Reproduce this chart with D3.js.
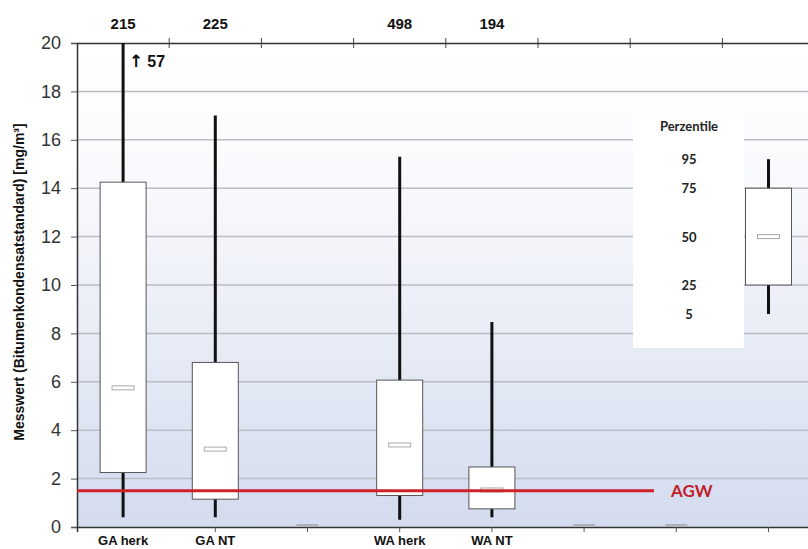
<!DOCTYPE html>
<html><head><meta charset="utf-8">
<script src="https://cdnjs.cloudflare.com/ajax/libs/d3/7.8.5/d3.min.js"></script>
<style>body{margin:0;background:#fff}svg{display:block}</style>
</head><body>
<svg id="c" width="808" height="549"></svg>
<script>
// ---- data ----
const slots = ["GA herk","GA NT","","WA herk","WA NT","","","Legende",""];
const categories = ["GA herk","GA NT","WA herk","WA NT"];
const catSlot = [0,1,3,4];
const counts = ["215","225","498","194"];
const p5  = [0.4, 0.4, 0.3, 0.4];
const p25 = [2.25, 1.15, 1.3, 0.75];
const p50 = [5.75, 3.22, 3.39, 1.53];
const p75 = [14.25, 6.8, 6.07, 2.48];
const p95 = [57, 17.0, 15.3, 8.47];
const emptySlots = [2,5,6];
const legendPercentiles = ["95","75","50","25","5"];
const legendValues = [15.2, 14.0, 12.0, 10.0, 8.8];
const legendSlot = 7;
const yTicks = [0,2,4,6,8,10,12,14,16,18,20];
const agw = 1.5;
const overflowArrow = "↑";
const overflowValue = "57";
const yTitle = "Messwert (Bitumenkondensatstandard) [mg/m³]";

// ---- layout ----
const svg = d3.select("#c");
const L = 77, T = 43, B = 527, slotW = 92.2;
const x = d3.scaleBand().domain(d3.range(slots.length)).range([L, L + slots.length*slotW]).padding(0);
const y = d3.scaleLinear().domain([0,20]).range([B, T]);
const cx = i => x(i) + x.bandwidth()/2;
const bw = 46, mw = 22;

const defs = svg.append("defs");
const g = defs.append("linearGradient").attr("id","bg").attr("x1",0).attr("x2",0).attr("y1",0).attr("y2",1);
g.append("stop").attr("offset","0%").attr("stop-color","#ffffff");
g.append("stop").attr("offset","30%").attr("stop-color","#f8f9fc");
g.append("stop").attr("offset","100%").attr("stop-color","#d3dbee");
defs.append("clipPath").attr("id","clip").append("rect").attr("x",L).attr("y",T).attr("width",808-L).attr("height",B-T);

svg.append("rect").attr("x",L).attr("y",T).attr("width",808-L).attr("height",B-T).attr("fill","url(#bg)");

// gridlines
svg.append("g").selectAll("line").data(yTicks.filter(d=>d>0&&d<20)).join("line")
  .attr("x1",L).attr("x2",808).attr("y1",d=>y(d)).attr("y2",d=>y(d))
  .attr("stroke","#babdc4").attr("stroke-width",1.5);

// legend white panel
svg.append("rect").attr("x",633).attr("y",113).attr("width",111).attr("height",235).attr("fill","#ffffff");

// y axis
const ya = svg.append("g").attr("transform",`translate(${L},0)`)
  .call(d3.axisLeft(y).tickValues(yTicks).tickSize(6).tickPadding(10));
ya.select(".domain").attr("stroke","#333").attr("stroke-width",1.5);
ya.selectAll(".tick line").attr("stroke","#555");
ya.selectAll(".tick text").attr("font-family","Liberation Sans, Arial").attr("font-size",18).attr("fill","#333");

// top axis
const xt = svg.append("g").attr("transform",`translate(0,${T})`)
  .call(d3.axisTop(x).tickValues(d3.range(1,slots.length)).tickFormat("").tickSize(0));
xt.select(".domain").attr("stroke","#333").attr("stroke-width",1.5);
svg.append("g").selectAll("line").data(d3.range(1,slots.length)).join("line")
  .attr("x1",d=>x(d)).attr("x2",d=>x(d)).attr("y1",T-5).attr("y2",T+5).attr("stroke","#444").attr("stroke-width",1);

// bottom axis
const xb = svg.append("g").attr("transform",`translate(0,${B})`)
  .call(d3.axisBottom(x).tickValues(d3.range(1,slots.length)).tickFormat("").tickSize(5));
xb.select(".domain").attr("stroke","#333").attr("stroke-width",1.5);
xb.selectAll(".tick line").attr("stroke","#555");

// empty slot markers
svg.append("g").selectAll("rect").data(emptySlots).join("rect")
  .attr("x",d=>cx(d)-mw/2).attr("y",B-3).attr("width",mw).attr("height",3)
  .attr("fill","#aeb2ba");

// boxes
const plot = svg.append("g").attr("clip-path","url(#clip)");
categories.forEach((c,i)=>{
  const xc = cx(catSlot[i]);
  plot.append("line").attr("x1",xc).attr("x2",xc).attr("y1",y(p5[i])).attr("y2",y(p95[i]))
    .attr("stroke","#111").attr("stroke-width",3);
  plot.append("rect").attr("x",xc-bw/2).attr("y",y(p75[i])).attr("width",bw).attr("height",y(p25[i])-y(p75[i]))
    .attr("fill","#fff").attr("stroke","#555").attr("stroke-width",1);
  plot.append("rect").attr("x",xc-mw/2).attr("y",y(p50[i])-2).attr("width",mw).attr("height",4)
    .attr("fill","#fff").attr("stroke","#a8a8a8").attr("stroke-width",1);
});

// legend box
{
  const xc = cx(legendSlot);
  const [v95,v75,v50,v25,v5] = legendValues;
  svg.append("line").attr("x1",xc).attr("x2",xc).attr("y1",y(v5)).attr("y2",y(v95)).attr("stroke","#111").attr("stroke-width",3);
  svg.append("rect").attr("x",xc-bw/2).attr("y",y(v75)).attr("width",bw).attr("height",y(v25)-y(v75))
    .attr("fill","#fff").attr("stroke","#555").attr("stroke-width",1);
  svg.append("rect").attr("x",xc-mw/2).attr("y",y(v50)-2).attr("width",mw).attr("height",4)
    .attr("fill","#fff").attr("stroke","#a8a8a8").attr("stroke-width",1);
  const lx = 689;
  svg.append("text").attr("x",lx).attr("y",131).attr("text-anchor","middle")
    .attr("font-family","Lato").attr("font-weight","bold").attr("font-size",13).attr("fill","#222").text("Perzentile");
  svg.append("g").selectAll("text").data(legendPercentiles).join("text")
    .attr("x",lx).attr("y",(d,i)=>y(legendValues[i])+5).attr("text-anchor","middle")
    .attr("font-family","Lato").attr("font-weight","bold").attr("font-size",13).attr("fill","#222").text(d=>d);
}

// AGW line
svg.append("line").attr("x1",L).attr("x2",654).attr("y1",y(agw)).attr("y2",y(agw)).attr("stroke","#d0212a").attr("stroke-width",3);
svg.append("text").attr("x",671).attr("y",y(agw)+6).attr("font-family","Lato").attr("font-weight","bold")
  .attr("font-size",17).attr("fill","#c0202a").text("AGW");

// counts
svg.append("g").selectAll("text").data(counts).join("text")
  .attr("x",(d,i)=>cx(catSlot[i])).attr("y",29).attr("text-anchor","middle")
  .attr("font-family","Liberation Sans, Arial").attr("font-weight","bold").attr("font-size",15).attr("fill","#111").text(d=>d);

// overflow note
const on = svg.append("text").attr("x",129).attr("y",67).attr("font-weight","bold").attr("font-size",16).attr("fill","#111");
on.append("tspan").attr("font-family","DejaVu Sans").attr("font-size",17).text(overflowArrow);
on.append("tspan").attr("dx",4).attr("font-family","Liberation Sans, Arial").text(overflowValue);

// category labels
svg.append("g").selectAll("text").data(categories).join("text")
  .attr("x",(d,i)=>cx(catSlot[i])).attr("y",545).attr("text-anchor","middle")
  .attr("font-family","Liberation Sans, Arial").attr("font-weight","bold").attr("font-size",13).attr("fill","#111").text(d=>d);

// y title
svg.append("text").attr("transform",`translate(24,${(T+B)/2-3}) rotate(-90)`).attr("text-anchor","middle")
  .attr("font-family","Liberation Sans, Arial").attr("font-weight","bold").attr("font-size",14).attr("fill","#111").text(yTitle);
</script>
</body></html>
